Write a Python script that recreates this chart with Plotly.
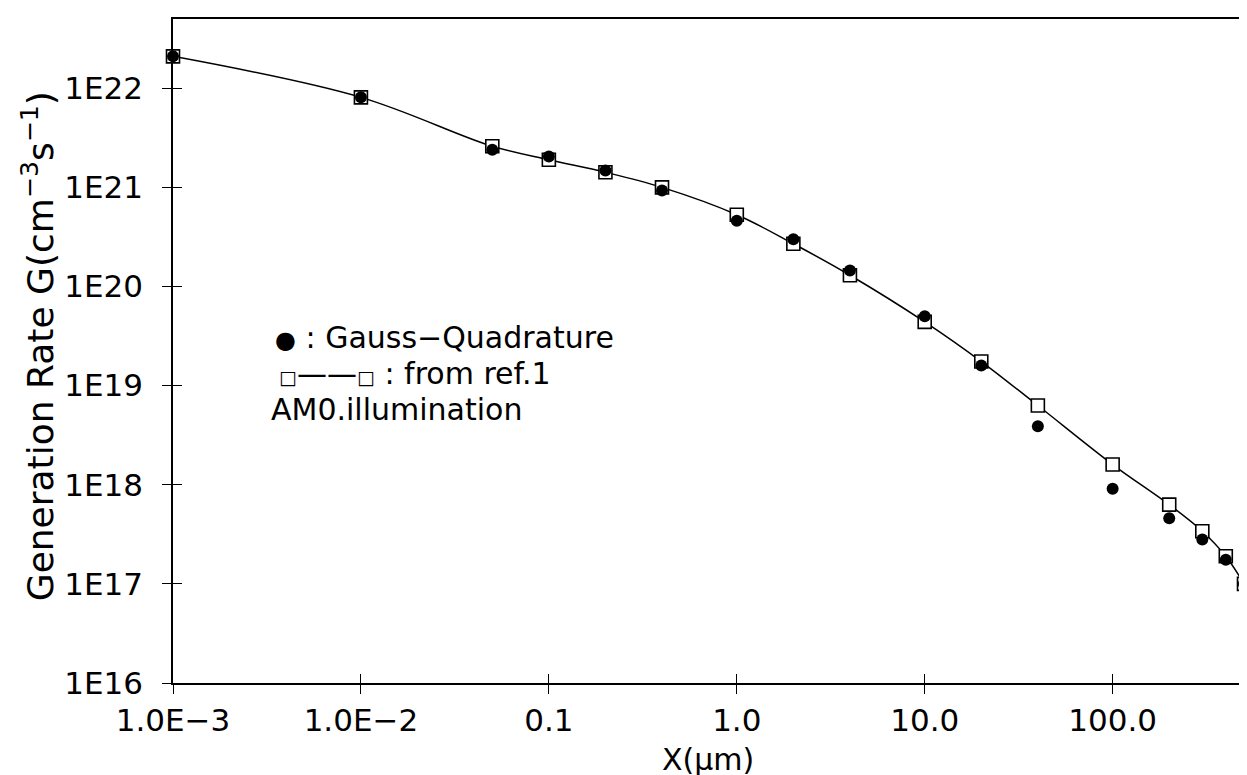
import math
import plotly.graph_objects as go

# Depth X (um)
x_um = [0.001, 0.01, 0.05, 0.1, 0.2, 0.4, 1, 2, 4, 10, 20, 40, 100, 200, 300, 400, 500]
# Reference values (open squares + line), cm^-3 s^-1
g_ref = [2.1e22, 8.1e21, 2.6e21, 1.9e21, 1.42e21, 1.0e21, 5.3e20, 2.7e20, 1.3e20,
         4.4e19, 1.75e19, 6.3e18, 1.6e18, 6.3e17, 3.4e17, 1.9e17, 1.0e17]
# Gauss-Quadrature values (filled circles)
g_gauss = [2.1e22, 8.1e21, 2.4e21, 2.05e21, 1.48e21, 0.93e21, 4.6e20, 3.0e20, 1.45e20,
           5.0e19, 1.6e19, 3.9e18, 9.1e17, 4.6e17, 2.8e17, 1.75e17, 1.0e17]

x_tickvals = [0.001, 0.01, 0.1, 1, 10, 100]
x_ticktext = ["1.0E\u22123", "1.0E\u22122", "0.1", "1.0", "10.0", "100.0"]
y_tickvals = [1e16, 1e17, 1e18, 1e19, 1e20, 1e21, 1e22]
y_ticktext = ["1E16", "1E17", "1E18", "1E19", "1E20", "1E21", "1E22"]

x_range = [math.log10(0.001), math.log10(500)]
y_range = [16, math.log10(5e22)]

FONT = "DejaVu Sans"
W, H = 1247, 775
L, R, T, B = 165, 9, 11, 100

fig = go.Figure()

fig.add_trace(go.Scatter(
    x=x_um, y=g_ref, mode="lines+markers", cliponaxis=False,
    line=dict(color="black", width=1.5, shape="spline", smoothing=1.0),
    marker=dict(symbol="square", size=13, color="white",
                line=dict(color="black", width=1.6)),
    showlegend=False, name="from ref.1"))

fig.add_trace(go.Scatter(
    x=x_um, y=g_gauss, mode="markers", cliponaxis=False,
    marker=dict(symbol="circle", size=12, color="black"),
    showlegend=False, name="Gauss-Quadrature"))

# invisible trace to carry the inside-tick overlay axes
fig.add_trace(go.Scatter(x=[x_um[0]], y=[g_ref[0]], xaxis="x2", yaxis="y2",
                         mode="markers", marker=dict(opacity=0),
                         showlegend=False, hoverinfo="skip"))

axis_common = dict(showgrid=False, zeroline=False, showline=True, mirror=True,
                   linecolor="black", linewidth=1.6, ticks="outside",
                   ticklen=9, tickwidth=1.4, tickcolor="black")

fig.update_layout(
    width=W, height=H,
    margin=dict(l=L, r=R, t=T, b=B),
    paper_bgcolor="white", plot_bgcolor="white",
    font=dict(family=FONT, color="black"),
    xaxis=dict(type="log", range=x_range, tickvals=x_tickvals, ticktext=x_ticktext,
               tickfont=dict(size=31, family=FONT), ticklabelstandoff=0,
               **axis_common),
    yaxis=dict(type="log", range=y_range, tickvals=y_tickvals, ticktext=y_ticktext,
               tickfont=dict(size=31, family=FONT), ticklabelstandoff=13,
               **axis_common),
    xaxis2=dict(type="log", range=x_range, overlaying="x", tickvals=x_tickvals,
                showticklabels=False, ticks="inside", ticklen=9, tickwidth=1.4,
                tickcolor="black", showgrid=False, zeroline=False, showline=False),
    yaxis2=dict(type="log", range=y_range, overlaying="y", tickvals=y_tickvals,
                showticklabels=False, ticks="inside", ticklen=9, tickwidth=1.4,
                tickcolor="black", showgrid=False, zeroline=False, showline=False),
)

pw = W - L - R
ph = H - T - B


def px_x(p):
    return (p - L) / pw


def px_y(p):
    return (H - B - p) / ph


# axis titles
fig.add_annotation(text="X(\u03bcm)", xref="paper", yref="paper",
                   x=px_x(701), y=px_y(752), xanchor="center", yanchor="middle",
                   showarrow=False, font=dict(size=30, family=FONT, color="black"))
fig.add_annotation(text="Generation Rate G(cm<sup>\u22123</sup>s<sup>\u22121</sup>)",
                   xref="paper", yref="paper", x=px_x(30), y=px_y(338),
                   xanchor="center", yanchor="middle", textangle=-90,
                   showarrow=False, font=dict(size=36, family=FONT, color="black"))

legend_lines = [
    ("<span style='font-size:24px'>\u25cf</span> : Gauss\u2212Quadrature", 265, 329),
    ("<span style='font-size:19px'>\u25a1</span>\u2014\u2014<span style='font-size:19px'>\u25a1</span> : from ref.1", 269, 365),
    ("AM0.illumination", 261, 401),
]
for txt, xp, yp in legend_lines:
    fig.add_annotation(text=txt, xref="paper", yref="paper", x=px_x(xp), y=px_y(yp),
                       xanchor="left", yanchor="middle", showarrow=False,
                       font=dict(size=30, family=FONT, color="black"))

fig.write_html("out.html")
